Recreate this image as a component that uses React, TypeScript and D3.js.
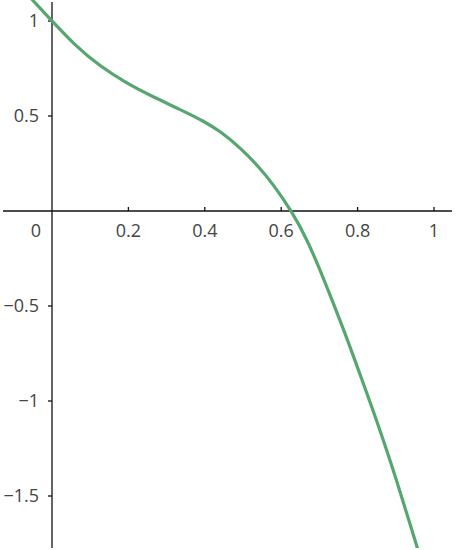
import * as d3 from 'd3';

// points (x, f(x))
const curveX = [-0.06, 0, 0.056, 0.126, 0.196, 0.265, 0.335, 0.4, 0.44, 0.492, 0.545, 0.579, 0.627, 0.667, 0.71, 0.763, 0.811, 0.859, 0.902, 0.942, 0.962];
const curveY = [1.13, 1.0, 0.88, 0.76, 0.672, 0.6, 0.535, 0.47, 0.42, 0.335, 0.225, 0.14, 0, -0.145, -0.35, -0.62, -0.885, -1.153, -1.416, -1.679, -1.81];

const xTicks = [0.2, 0.4, 0.6, 0.8, 1];
const yTicks = [1, 0.5, -0.5, -1, -1.5];

const width = 458;
const height = 550;

const fmt = (v: number) => String(v).replace('-', '\u2212');

export default function App() {
  const x = d3.scaleLinear([0, 1], [52, 434]);
  const y = d3.scaleLinear([0, 1], [211, 21]);

  const pts = curveX.map((v, i) => [v, curveY[i]] as [number, number]);
  const line = d3.line<[number, number]>()
    .x(d => x(d[0]))
    .y(d => y(d[1]))
    .curve(d3.curveBasis);

  const font = '"Open Sans", "Noto Sans", sans-serif';

  return (
    <svg width={width} height={height} style={{ position: 'absolute', left: 0, top: 0, background: '#fff' }}>
      <defs>
        <clipPath id="plot">
          <rect x={0} y={0} width={width} height={548} />
        </clipPath>
      </defs>
      {/* axes */}
      <line x1={3} x2={452} y1={y(0)} y2={y(0)} stroke="#111" strokeWidth={1.3} />
      <line x1={x(0)} x2={x(0)} y1={2} y2={548} stroke="#111" strokeWidth={1.3} />
      {xTicks.map(t => (
        <g key={t}>
          <line x1={x(t)} x2={x(t)} y1={y(0) - 4} y2={y(0)} stroke="#111" strokeWidth={1.3} />
          <text x={x(t)} y={237} textAnchor="middle" fontFamily={font} fontSize={18} fill="#444">{fmt(t)}</text>
        </g>
      ))}
      <text x={36} y={237} textAnchor="middle" fontFamily={font} fontSize={18} fill="#444">0</text>
      {yTicks.map(t => (
        <g key={t}>
          <line x1={x(0) - 4} x2={x(0)} y1={y(t)} y2={y(t)} stroke="#111" strokeWidth={1.3} />
          <text x={39} y={y(t)} dy="0.35em" textAnchor="end" fontFamily={font} fontSize={18} fill="#444">{fmt(t)}</text>
        </g>
      ))}
      <path d={line(pts) ?? ''} fill="none" stroke="#55a66f" strokeWidth={3.2} clipPath="url(#plot)" />
    </svg>
  );
}
